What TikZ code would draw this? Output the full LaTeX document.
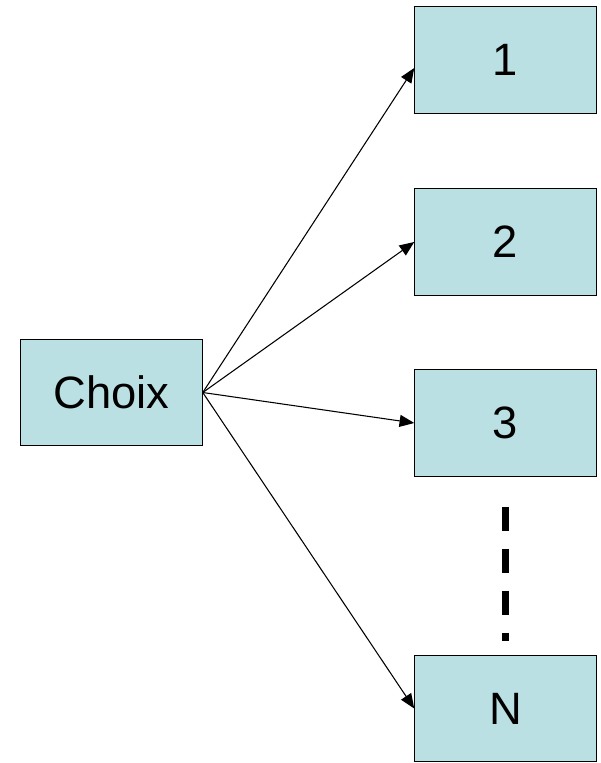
\documentclass[tikz,border=0pt]{standalone}
\usepackage{fontspec}
\setmainfont{Liberation Sans}
\usetikzlibrary{arrows.meta}
\definecolor{boxfill}{RGB}{187,224,227}

\begin{document}
\begin{tikzpicture}[x=0.75pt,y=-0.75pt]
        \tikzstyle{every node}=[rectangle, fill=boxfill, draw=black, line width=0.9pt, minimum width=136pt, minimum height=80pt, inner sep=0pt, font=\fontsize{34}{40}\selectfont, text=black]
        \tikzstyle{edge}=[black, line width=0.8pt, -{Triangle[length=11pt,width=9pt]}]

        \useasboundingbox (0,0) rectangle (600,763);

        \node (choix) at (111.5,392.5) {Choix};
        \node (b1)    at (505.5,60)    {1};
        \node (b2)    at (505.5,242)   {2};
        \node (b3)    at (505.5,423)   {3};
        \node (bN)    at (505.5,708.5) {N};

        \draw[edge] (choix.east) -- ([yshift=-6pt]b1.west);
        \draw[edge] (choix.east) -- (b2.west);
        \draw[edge] (choix.east) -- (b3.west);
        \draw[edge] (choix.east) -- (bN.west);

        \tikzstyle{dots}=[black, line width=5.25pt, dash pattern=on 18pt off 13.5pt]
        \draw[dots, shorten <=22.5pt, shorten >=10.5pt] (b3.south) -- (bN.north);
    \end{tikzpicture}
\end{document}
